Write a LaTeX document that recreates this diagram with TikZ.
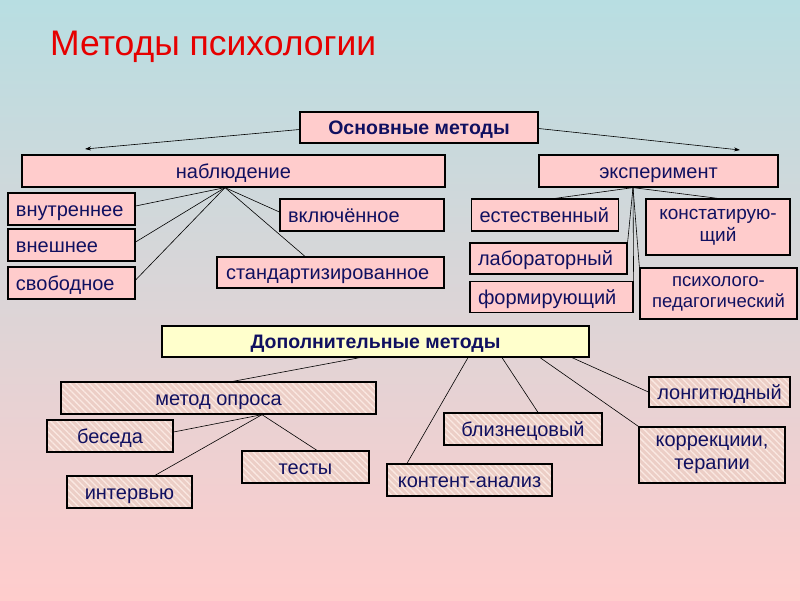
\documentclass[tikz,border=0pt]{standalone}
\usepackage{fontspec}
\setmainfont{Liberation Sans}
\usetikzlibrary{arrows.meta,patterns.meta}
\definecolor{bgtop}{RGB}{184,222,226}
\definecolor{bgbot}{RGB}{255,204,204}
\definecolor{boxpink}{RGB}{255,204,204}
\definecolor{boxyel}{RGB}{255,255,204}
\definecolor{txt}{RGB}{16,16,96}
\definecolor{hatchbase}{RGB}{236,206,198}
\definecolor{hatchline}{RGB}{250,232,226}
\definecolor{titlered}{RGB}{230,0,0}
\begin{document}
\begin{tikzpicture}[x=1pt,y=-1pt,
  pbox/.style={draw=black, line width=1.2pt, fill=boxpink, text=txt, inner sep=0pt,
    font=\fontsize{20}{23}\selectfont},
  ybox/.style={draw=black, line width=1.2pt, fill=boxyel, text=txt, inner sep=0pt,
    font=\bfseries\fontsize{19.5}{22}\selectfont},
  hbox/.style={draw=black, line width=1.2pt, preaction={fill=hatchbase},
    pattern={Lines[angle=-45,distance=4.5pt,line width=1.3pt]}, pattern color=hatchline,
    text=txt, inner sep=0pt, font=\fontsize{20}{23}\selectfont},
  one/.style={text height=14.5pt, text depth=0pt},
  leftbox/.style={align=left, inner xsep=8pt, text width=#1},
  conn/.style={draw=black, line width=0.6pt},
  arr/.style={conn, -{Stealth[length=6pt,width=4pt]}}
]
\useasboundingbox (0,0) rectangle (800,600);
\shade[top color=bgtop, bottom color=bgbot] (0,0) rectangle (800,600);

% title
\node[text=titlered, font=\fontsize{35.5}{40}\selectfont, anchor=base west, inner sep=0pt] (title) at (50,55) {Методы психологии};

% main methods
\node[pbox, one, minimum width=238pt, minimum height=31pt, font=\bfseries\fontsize{19.5}{22}\selectfont] (osn) at (419,127.5) {Основные методы};
\node[pbox, one, minimum width=423pt, minimum height=32pt] (nab) at (233.5,171) {наблюдение};
\node[pbox, one, minimum width=239pt, minimum height=32pt] (eks) at (658.5,171) {эксперимент};

\coordinate (aL) at (85,149);
\coordinate (aR) at (740,150);
\draw[arr] ([yshift=-2pt]osn.west) -- (aL);
\draw[arr] ([yshift=-1pt]osn.east) -- (aR);

% observation
\node[pbox, one, leftbox=111pt, minimum height=32pt] (vnutr) at (71.5,209) {внутреннее};
\node[pbox, one, leftbox=111pt, minimum height=32pt] (vnesh) at (71.5,245) {внешнее};
\node[pbox, one, leftbox=111pt, minimum height=32pt] (svob) at (71.5,283) {свободное};
\node[pbox, one, leftbox=148pt, minimum height=32pt] (vkl) at (362,215) {включённое};
\node[pbox, one, leftbox=209pt, inner xsep=9pt, minimum height=31pt] (stand) at (330.5,272.5) {стандартизированное};

\coordinate (napex) at ([xshift=-8.5pt]nab.south);
\draw[conn] (napex) -- ([yshift=3pt]vnutr.east);
\draw[conn] (napex) -- ([yshift=3pt]vnesh.east);
\draw[conn] (napex) -- ([yshift=3pt]svob.east);
\draw[conn] (napex) -- ([yshift=3pt]vkl.west);
\draw[conn] (napex) -- ([xshift=-25.5pt]stand.north);

% experiment
\node[pbox, one, leftbox=131pt, minimum height=32pt] (estest) at (545,215) {естественный};
\node[pbox, one, leftbox=141pt, minimum height=31pt] (labor) at (548.5,258.5) {лабораторный};
\node[pbox, one, leftbox=147pt, minimum height=31pt] (form) at (551.5,297) {формирующий};
\node[pbox, align=center, minimum width=144pt, minimum height=56pt, font=\fontsize{19}{22}\selectfont] (konst) at (718,227) {констатирую-\\щий};
\node[pbox, align=center, minimum width=157pt, minimum height=51pt, font=\fontsize{18.5}{21}\selectfont] (psych) at (718.5,293.5) {психолого-\\педагогический};

\coordinate (eapex) at ([xshift=-25.5pt]eks.south);
\draw[conn] (eapex) -- ([xshift=10pt]estest.north);
\draw[conn] (eapex) -- ([xshift=0pt]konst.north);
\draw[conn] (eapex) -- (labor.north east);
\draw[conn] (eapex) -- (form.north east);
\draw[conn] (eapex) -- (psych.north west);

% additional methods
\node[ybox, one, minimum width=427pt, minimum height=31pt] (dop) at (375.5,341.5) {Дополнительные методы};
\node[hbox, one, minimum width=315pt, minimum height=32pt] (opros) at (218.5,398) {метод опроса};
\node[hbox, one, minimum width=126pt, minimum height=32pt] (beseda) at (110,436) {беседа};
\node[hbox, one, minimum width=127pt, minimum height=32pt] (testy) at (305.5,467) {тесты};
\node[hbox, one, minimum width=125pt, minimum height=32pt] (interv) at (129.5,492) {интервью};
\node[hbox, one, minimum width=158pt, minimum height=32pt] (blizn) at (523,429) {близнецовый};
\node[hbox, one, minimum width=165pt, minimum height=32pt] (kontent) at (469.5,480) {контент-анализ};
\node[hbox, one, minimum width=141pt, minimum height=30pt] (longit) at (719.5,392) {лонгитюдный};
\node[hbox, align=center, minimum width=146pt, minimum height=56pt, font=\fontsize{20}{23}\selectfont] (korr) at (712,455) {коррекциии,\\терапии};

\draw[conn] ([xshift=-15.5pt]dop.south) -- ([xshift=14.5pt]opros.north);
\coordinate (oapex) at ([xshift=43.5pt]opros.south);
\draw[conn] (oapex) -- ([yshift=4pt]beseda.east);
\draw[conn] (oapex) -- ([xshift=25.5pt]interv.north);
\draw[conn] (oapex) -- ([xshift=11.5pt]testy.north);

\draw[conn] ([xshift=92.5pt]dop.south) -- ([xshift=-62.5pt]kontent.north);
\draw[conn] ([xshift=126.5pt]dop.south) -- ([xshift=15pt]blizn.north);
\draw[conn] ([xshift=164.5pt]dop.south) -- (korr.north west);
\draw[conn] ([xshift=196.5pt]dop.south) -- (longit.west);
\end{tikzpicture}
\end{document}
